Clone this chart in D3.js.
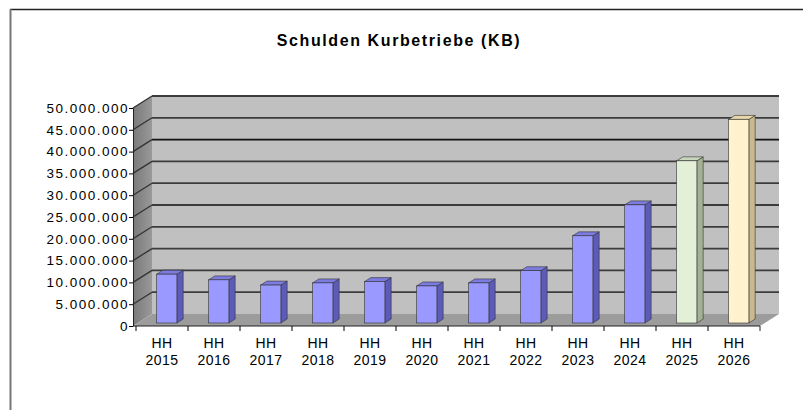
<!DOCTYPE html>
<html>
<head>
<meta charset="utf-8">
<script src="https://cdn.jsdelivr.net/npm/d3@7"></script>
<style>
  body { margin: 0; background: #fff; }
  svg text { font-family: "Liberation Sans", Arial, sans-serif; }
</style>
</head>
<body>
<div id="chart"></div>
<script>
// data
var categories = ["2015", "2016", "2017", "2018", "2019", "2020", "2021", "2022", "2023", "2024", "2025", "2026"];
var debts = [11200000, 9900000, 8700000, 9200000, 9500000, 8500000, 9200000, 12000000, 20000000, 27100000, 37200000, 46700000];
var yTicks = [0, 5000000, 10000000, 15000000, 20000000, 25000000, 30000000, 35000000, 40000000, 45000000, 50000000];
var barColors = ["#9999ff", "#9999ff", "#9999ff", "#9999ff", "#9999ff", "#9999ff", "#9999ff", "#9999ff", "#9999ff", "#9999ff", "#e3efd7", "#fff2cc"];
var sideColors = ["#5c5cb8", "#5c5cb8", "#5c5cb8", "#5c5cb8", "#5c5cb8", "#5c5cb8", "#5c5cb8", "#5c5cb8", "#5c5cb8", "#5c5cb8", "#a3b294", "#c9b98e"];
var topColors = ["#7b7be0", "#7b7be0", "#7b7be0", "#7b7be0", "#7b7be0", "#7b7be0", "#7b7be0", "#7b7be0", "#7b7be0", "#7b7be0", "#c8d6bb", "#e6d6a8"];

var width = 803, height = 410;
var DX = 19, DY = -12; // depth of the 3d box

var svg = d3.select("#chart").append("svg")
    .attr("width", width)
    .attr("height", height);

// frame
svg.append("line").attr("x1", 10).attr("x2", 803).attr("y1", 9.5).attr("y2", 9.5)
    .attr("stroke", "#222").attr("stroke-width", 1.5);
svg.append("line").attr("x1", 10.5).attr("x2", 10.5).attr("y1", 9).attr("y2", 410)
    .attr("stroke", "#777").attr("stroke-width", 2);

svg.append("text")
    .attr("x", 399).attr("y", 46)
    .attr("text-anchor", "middle")
    .style("font-size", "16px").style("font-weight", "bold")
    .style("letter-spacing", "1.6px")
    .text("Schulden Kurbetriebe (KB)");

var x = d3.scaleBand().domain(categories).range([136, 760]);
var y = d3.scaleLinear().domain([0, 50000000]).range([326, 108]);
var x0 = 133, x1 = 760;

var defs = svg.append("defs");
var sideGrad = defs.append("linearGradient").attr("id", "sideGrad")
    .attr("x1", 0).attr("x2", 1).attr("y1", 0).attr("y2", 0);
sideGrad.append("stop").attr("offset", 0).attr("stop-color", "#7a7a7a");
sideGrad.append("stop").attr("offset", 1).attr("stop-color", "#999");

// back wall
svg.append("rect")
    .attr("x", x0 + DX).attr("y", y(50000000) + DY)
    .attr("width", x1 - x0).attr("height", y(0) - y(50000000))
    .attr("fill", "#c0c0c0");

// side wall
svg.append("path")
    .attr("d", "M" + x0 + "," + y(0) + " L" + x0 + "," + y(50000000) +
        " L" + (x0 + DX) + "," + (y(50000000) + DY) + " L" + (x0 + DX) + "," + (y(0) + DY) + "Z")
    .attr("fill", "url(#sideGrad)");

// floor
svg.append("path")
    .attr("d", "M" + x0 + "," + y(0) + " L" + x1 + "," + y(0) +
        " L" + (x1 + DX) + "," + (y(0) + DY) + " L" + (x0 + DX) + "," + (y(0) + DY) + "Z")
    .attr("fill", "#9c9c9c");

// gridlines on back wall and side wall
var gridTicks = yTicks.filter(function (d) { return d > 0; });
svg.selectAll(".grid").data(gridTicks).enter().append("line")
    .attr("x1", x0 + DX).attr("x2", x1 + DX)
    .attr("y1", function (d) { return y(d) + DY; })
    .attr("y2", function (d) { return y(d) + DY; })
    .attr("stroke", function (d) { return d === 40000000 ? "#111" : "#3c3c3c"; })
    .attr("stroke-width", 1.8);
svg.selectAll(".sgrid").data(gridTicks).enter().append("line")
    .attr("x1", x0).attr("x2", x0 + DX)
    .attr("y1", function (d) { return y(d); })
    .attr("y2", function (d) { return y(d) + DY; })
    .attr("stroke", "#333")
    .attr("stroke-width", 1.3);

// bars
var bw = x.bandwidth() * 0.39;
var fz = 0.25, dz = 0.33; // bar position in depth
var bars = svg.selectAll(".bar").data(debts).enter().append("g");
function bx(i) { return x(categories[i]) + x.bandwidth() / 2 - bw / 2 + DX * fz; }
function byTop(d) { return y(d) + DY * fz; }
var bottom = y(0) + DY * fz;
bars.append("path")
    .attr("d", function (d, i) {
        var l = bx(i) + bw, t = byTop(d);
        return "M" + l + "," + bottom + " L" + l + "," + t + " L" + (l + DX * dz) + "," + (t + DY * dz) +
            " L" + (l + DX * dz) + "," + (bottom + DY * dz) + "Z";
    })
    .attr("fill", function (d, i) { return sideColors[i]; })
    .attr("stroke", "#333").attr("stroke-width", 0.6);
bars.append("path")
    .attr("d", function (d, i) {
        var l = bx(i), t = byTop(d);
        return "M" + l + "," + t + " L" + (l + bw) + "," + t + " L" + (l + bw + DX * dz) + "," + (t + DY * dz) +
            " L" + (l + DX * dz) + "," + (t + DY * dz) + "Z";
    })
    .attr("fill", function (d, i) { return topColors[i]; })
    .attr("stroke", "#333").attr("stroke-width", 0.6);
bars.append("rect")
    .attr("x", function (d, i) { return bx(i); })
    .attr("y", function (d) { return byTop(d); })
    .attr("width", bw)
    .attr("height", function (d) { return bottom - byTop(d); })
    .attr("fill", function (d, i) { return barColors[i]; })
    .attr("stroke", "#333").attr("stroke-width", 0.6);

// axes
var de = d3.formatLocale({ decimal: ",", thousands: ".", grouping: [3], currency: ["", " €"] });
var yAxis = d3.axisLeft(y).tickValues(yTicks).tickFormat(de.format(",d")).tickSize(4).tickSizeOuter(0);
var gy = svg.append("g").attr("transform", "translate(" + x0 + ",0)").call(yAxis);
gy.select(".domain").attr("stroke", "#222");
gy.selectAll("text").style("font-size", "13.5px").style("letter-spacing", "1.5px")
    .attr("fill", "#000").attr("x", -4);

var xAxis = d3.axisBottom(x).tickSize(5).tickSizeOuter(0).tickFormat("");
var gx = svg.append("g").attr("transform", "translate(0," + y(0) + ")").call(xAxis);
gx.select(".domain").attr("stroke", "#222").attr("d", "M" + x0 + ",0H" + x1);
gx.selectAll(".tick line").attr("transform", "translate(" + (-x.bandwidth() / 2) + ",0)");
gx.append("line").attr("x1", x1).attr("x2", x1).attr("y1", 0).attr("y2", 5).attr("stroke", "#222");

var lbl = svg.selectAll(".xl").data(categories).enter().append("text")
    .attr("text-anchor", "middle")
    .style("font-size", "14px").style("letter-spacing", "0.5px");
lbl.append("tspan")
    .attr("x", function (d) { return x(d) + x.bandwidth() / 2; })
    .attr("y", 348).text("HH");
lbl.append("tspan")
    .attr("x", function (d) { return x(d) + x.bandwidth() / 2; })
    .attr("y", 365).text(function (d) { return d; });
</script>
</body>
</html>
